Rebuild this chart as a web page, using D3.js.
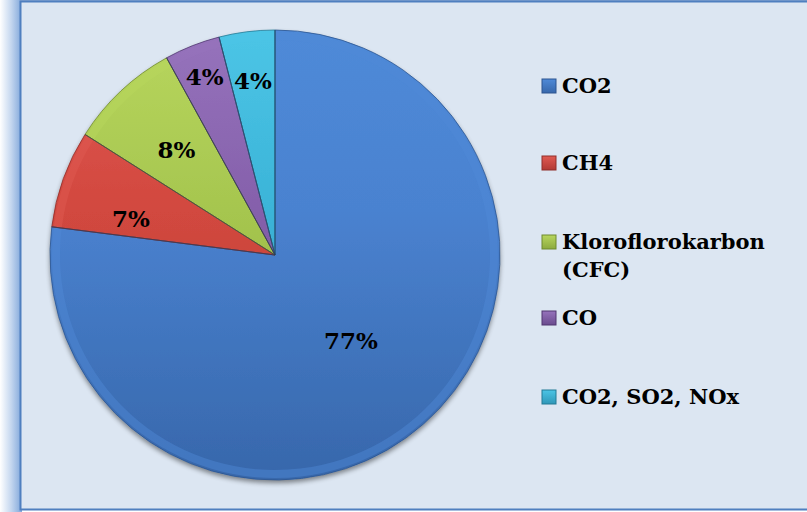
<!DOCTYPE html>
<html><head><meta charset="utf-8">
<script src="https://cdn.jsdelivr.net/npm/d3@7"></script>
<style>html,body{margin:0;padding:0;background:#fff}svg{display:block}</style>
</head><body>
<script>
const categories = ["CO2", "CH4", "Kloroflorokarbon (CFC)", "CO", "CO2, SO2, NOx"];
const legendLines = [["CO2"], ["CH4"], ["Kloroflorokarbon", "(CFC)"], ["CO"], ["CO2, SO2, NOx"]];
const values = [77, 7, 8, 4, 4];
const labels = ["77%", "7%", "8%", "4%", "4%"];
const colors = ["#4a82d0", "#d2483f", "#a6c64f", "#8560ab", "#3bb4d8"];
const darks  = ["#3767ab", "#b23a34", "#8caa3e", "#6a4b8e", "#2f97b8"];
const lights = ["#4f8ad8", "#e05a52", "#b8d65e", "#9673bc", "#4cc5e6"];
const edges  = ["#2c5590", "#8f2e2a", "#6f8a2f", "#503770", "#237a96"];

const W = 807, H = 512;
const svg = d3.select("body").append("svg").attr("width", W).attr("height", H);
const defs = svg.append("defs");

const lg = defs.append("linearGradient").attr("id","strip").attr("x1","0").attr("x2","1").attr("y1","0").attr("y2","0");
lg.append("stop").attr("offset","0").attr("stop-color","#ffffff");
lg.append("stop").attr("offset","0.5").attr("stop-color","#c5d7ef");
lg.append("stop").attr("offset","1").attr("stop-color","#7fa6da");
svg.append("rect").attr("x",0).attr("y",0).attr("width",W).attr("height",H).attr("fill","#ffffff");
svg.append("rect").attr("x",0).attr("y",0).attr("width",22).attr("height",H).attr("fill","url(#strip)");
svg.append("rect").attr("x",20.5).attr("y",1.5).attr("width",W).attr("height",508).attr("fill","#dce6f2").attr("stroke","#4f7fbf").attr("stroke-width",2);
svg.append("line").attr("x1",20).attr("x2",W).attr("y1",0.5).attr("y2",0.5).attr("stroke","#6f95c9");

colors.forEach((c,i)=>{
  const g = defs.append("linearGradient").attr("id","g"+i).attr("gradientUnits","userSpaceOnUse")
    .attr("x1",0).attr("y1",-225).attr("x2",0).attr("y2",225);
  g.append("stop").attr("offset","0").attr("stop-color",lights[i]);
  g.append("stop").attr("offset","0.4").attr("stop-color",c);
  g.append("stop").attr("offset","1").attr("stop-color",darks[i]);
});
const sh = defs.append("filter").attr("id","shadow").attr("x","-20%").attr("y","-20%").attr("width","140%").attr("height","140%");
sh.append("feGaussianBlur").attr("in","SourceAlpha").attr("stdDeviation",2.5);
sh.append("feOffset").attr("dx",0).attr("dy",3).attr("result","b");
sh.append("feComponentTransfer").append("feFuncA").attr("type","linear").attr("slope",0.45);
const m = sh.append("feMerge"); m.append("feMergeNode"); m.append("feMergeNode").attr("in","SourceGraphic");

const cx = 275, cy = 255, R = 225;
const pie = d3.pie().sort(null).value(d=>d)(values);
const arc = d3.arc().innerRadius(0).outerRadius(R);
const g = svg.append("g").attr("transform",`translate(${cx},${cy})`);
g.append("g").attr("filter","url(#shadow)").selectAll("path").data(pie).join("path")
  .attr("d",arc).attr("fill",(d,i)=>"url(#g"+i+")");
// subtle bevel: lighter band just inside the rim, darker edge
const rim = d3.arc().innerRadius(R-10).outerRadius(R-2);
g.selectAll("path.rim").data(pie).join("path").attr("class","rim")
  .attr("d",rim).attr("fill",(d,i)=>lights[i]).attr("opacity",0.45);
g.selectAll("path.sep").data(pie).join("path").attr("class","sep")
  .attr("d",arc).attr("fill","none").attr("stroke",(d,i)=>edges[i]).attr("stroke-width",1).attr("opacity",0.8);
// dark separators between slices
g.selectAll("line.sp").data(pie).join("line").attr("class","sp")
  .attr("x1",0).attr("y1",0)
  .attr("x2",d=>Math.sin(d.startAngle)*R).attr("y2",d=>-Math.cos(d.startAngle)*R)
  .attr("stroke","#2a3a55").attr("stroke-opacity",0.6).attr("stroke-width",1);

const labelR = [0.51, 0.66, 0.64, 0.85, 0.78];
const labelShift = [0, -0.1, 0, 0, 0];
g.selectAll("text.lbl").data(pie).join("text").attr("class","lbl")
  .attr("transform",(d,i)=>{
    const r = R*labelR[i];
    const a = (d.startAngle+d.endAngle)/2 + labelShift[i];
    return `translate(${Math.sin(a)*r},${-Math.cos(a)*r})`;
  })
  .attr("text-anchor","middle").attr("dy","0.36em")
  .attr("font-family","'DejaVu Serif', 'Liberation Serif', serif").attr("font-weight","bold")
  .attr("font-size",23).attr("fill","#000").text((d,i)=>labels[i]);

const ly = [86, 163, 242, 318, 397];
const leg = svg.append("g");
legendLines.forEach((lines,i)=>{
  const gr = defs.append("linearGradient").attr("id","lg"+i).attr("x1",0).attr("x2",0).attr("y1",0).attr("y2",1);
  gr.append("stop").attr("offset","0").attr("stop-color",lights[i]);
  gr.append("stop").attr("offset","1").attr("stop-color",darks[i]);
  leg.append("rect").attr("x",542).attr("y",ly[i]-7).attr("width",14).attr("height",14)
    .attr("fill","url(#lg"+i+")").attr("stroke",edges[i]).attr("stroke-width",1);
  lines.forEach((t,j)=>{
    leg.append("text").attr("x",562).attr("y",ly[i]+j*28).attr("dy","0.35em")
      .attr("font-family","'DejaVu Serif', 'Liberation Serif', serif").attr("font-weight","bold")
      .attr("font-size",21).attr("fill","#000").text(t);
  });
});
</script>
</body></html>
